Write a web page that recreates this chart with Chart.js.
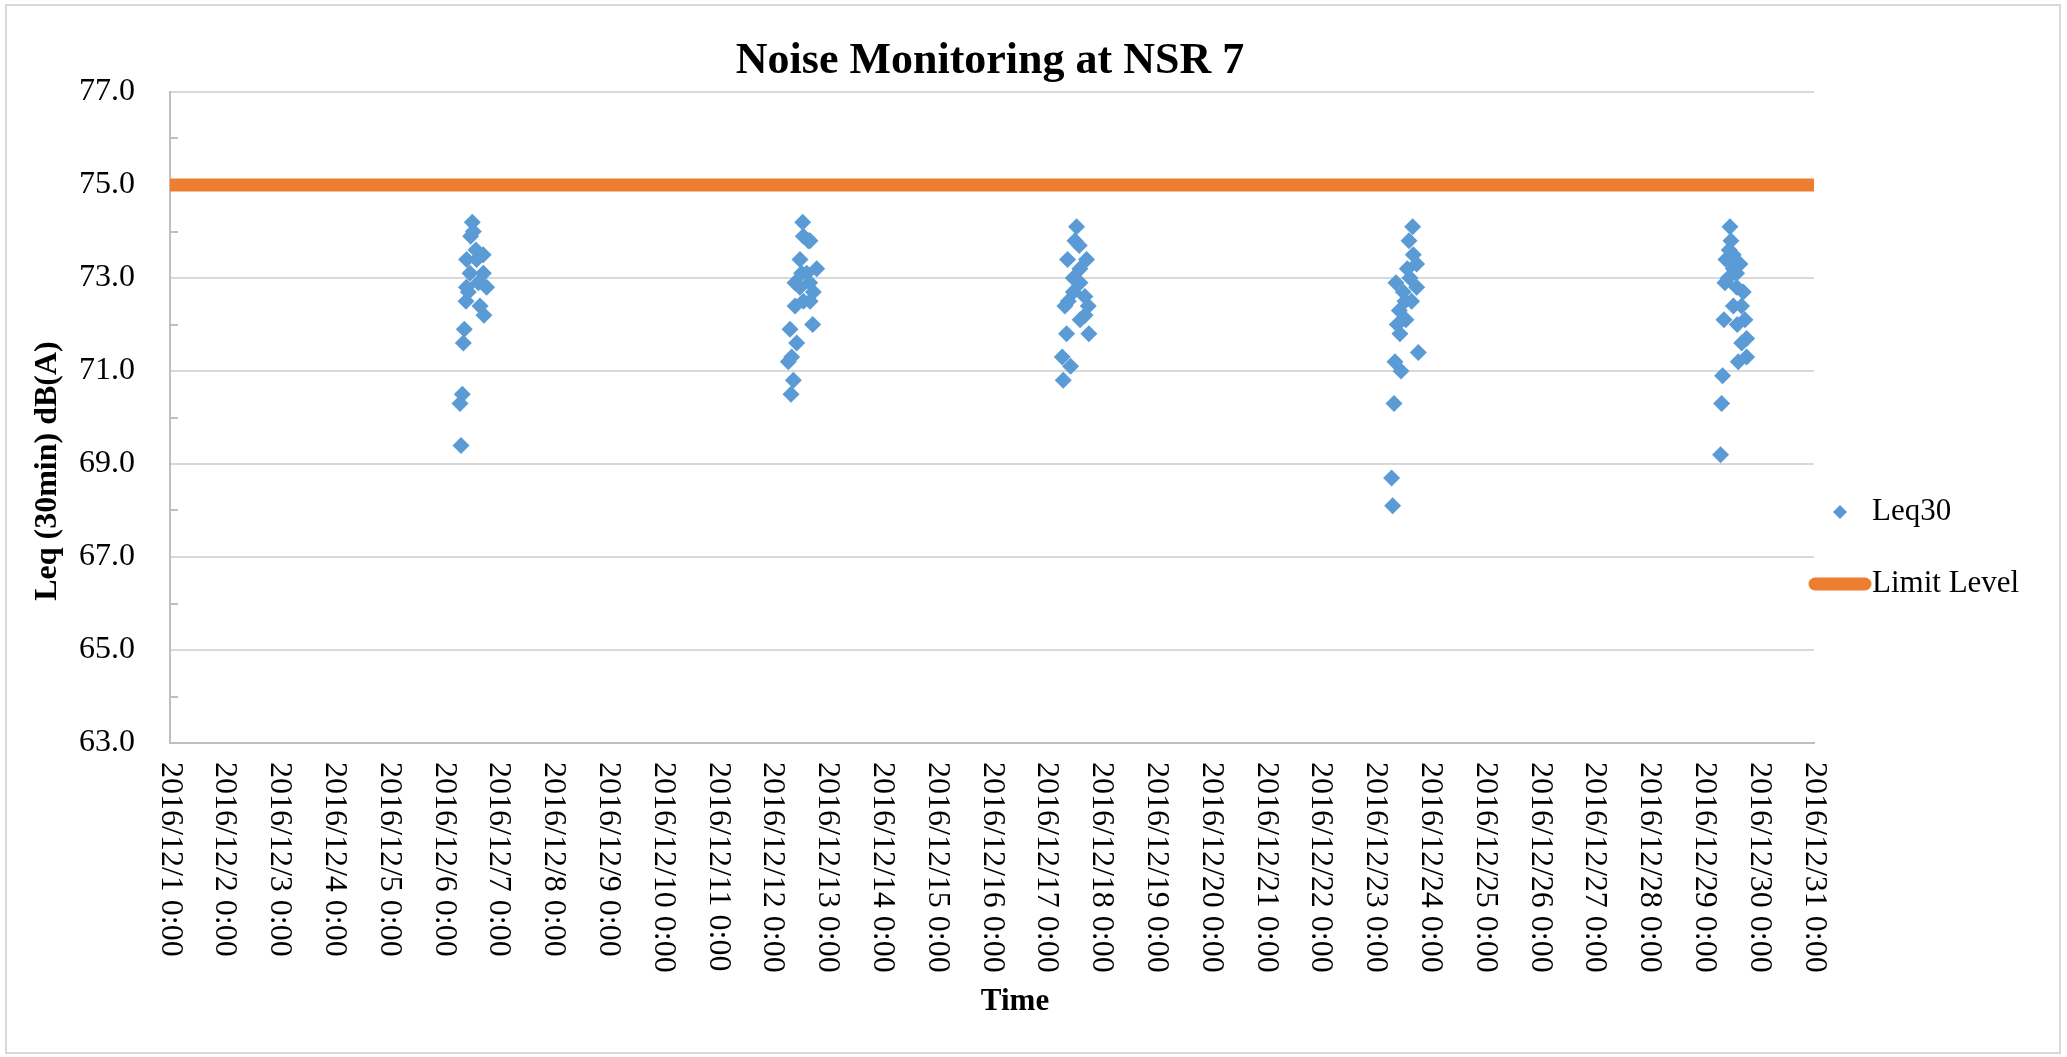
<!DOCTYPE html>
<html>
<head>
<meta charset="utf-8">
<title>Noise Monitoring at NSR 7</title>
<script src="https://cdn.jsdelivr.net/npm/chart.js@4.4.1/dist/chart.umd.min.js"></script>
<style>
    body { margin: 0; background: #fff; }
    canvas { display: block; }
</style>
</head>
<body>
<canvas id="noise-chart" width="2067" height="1057"></canvas>
<script>
// Tick labels along the time axis (one per day)
const xTickLabels = [
    '2016/12/1 0:00', '2016/12/2 0:00', '2016/12/3 0:00', '2016/12/4 0:00', '2016/12/5 0:00',
    '2016/12/6 0:00', '2016/12/7 0:00', '2016/12/8 0:00', '2016/12/9 0:00', '2016/12/10 0:00',
    '2016/12/11 0:00', '2016/12/12 0:00', '2016/12/13 0:00', '2016/12/14 0:00', '2016/12/15 0:00',
    '2016/12/16 0:00', '2016/12/17 0:00', '2016/12/18 0:00', '2016/12/19 0:00', '2016/12/20 0:00',
    '2016/12/21 0:00', '2016/12/22 0:00', '2016/12/23 0:00', '2016/12/24 0:00', '2016/12/25 0:00',
    '2016/12/26 0:00', '2016/12/27 0:00', '2016/12/28 0:00', '2016/12/29 0:00', '2016/12/30 0:00',
    '2016/12/31 0:00'
];

// Measurement days
const leqDates = ['2016/12/6', '2016/12/12', '2016/12/17', '2016/12/23', '2016/12/29'];

// Leq30 readings, dB(A), per monitoring day
const leqTimes_1206 = ['12:24', '12:50', '11:40', '14:00', '17:10', '09:55', '14:18', '11:23', '17:15', '09:50', '15:02',
    '18:40', '10:39', '09:38', '15:46', '17:30', '08:54', '08:28', '08:01', '07:00', '07:26'];
const leqValues_1206 = [74.2, 74.0, 73.9, 73.6, 73.5, 73.4, 73.4, 73.1, 73.1, 72.8, 72.9,
    72.8, 72.7, 72.5, 72.4, 72.2, 71.9, 71.6, 70.5, 70.3, 69.4];

const leqTimes_1212 = ['13:05', '13:22', '15:34', '16:17', '11:55', '19:13', '14:50', '12:38', '09:43', '16:10', '11:50',
    '17:45', '16:20', '09:45', '13:25', '17:28', '07:32', '10:27', '08:16', '06:48', '09:00', '07:58'];
const leqValues_1212 = [74.2, 73.9, 73.8, 73.8, 73.4, 73.2, 73.1, 73.1, 72.9, 72.9, 72.8,
    72.7, 72.5, 72.4, 72.5, 72.0, 71.9, 71.6, 71.3, 71.2, 70.8, 70.5];

const leqTimes_1217 = ['13:02', '12:19', '14:13', '09:06', '17:25', '14:30', '11:35', '14:32', '11:37', '16:41',
    '09:23', '07:56', '18:09', '16:45', '14:35', '08:40', '18:26', '06:46', '10:25', '07:12'];
const leqValues_1217 = [74.1, 73.8, 73.7, 73.4, 73.4, 73.2, 73.0, 72.9, 72.7, 72.6,
    72.5, 72.4, 72.4, 72.2, 72.1, 71.8, 71.8, 71.3, 71.1, 70.8];

const leqTimes_1223 = ['16:13', '14:37', '16:31', '17:58', '13:53', '15:03', '08:55', '18:00', '12:08', '15:47', '12:52',
    '10:23', '13:18', '09:30', '10:40', '18:42', '08:29', '11:07', '08:03', '07:01', '07:28'];
const leqValues_1223 = [74.1, 73.8, 73.5, 73.3, 73.2, 73.0, 72.9, 72.8, 72.7, 72.5, 72.5,
    72.3, 72.1, 72.0, 71.8, 71.4, 71.2, 71.0, 70.3, 68.7, 68.1];

const leqTimes_1229 = ['11:11', '11:37', '10:53', '12:38', '09:26', '15:34', '12:40', '14:06', '10:27', '08:59', '14:08', '17:01',
    '12:42', '16:17', '08:33', '17:45', '14:23', '18:29', '16:20', '18:30', '14:50', '07:58', '07:32', '07:05'];
const leqValues_1229 = [74.1, 73.8, 73.6, 73.5, 73.4, 73.3, 73.2, 73.1, 73.0, 72.9, 72.8, 72.7,
    72.4, 72.4, 72.1, 72.1, 72.0, 71.7, 71.6, 71.3, 71.2, 70.9, 70.3, 69.2];

// Limit level line
const limitTimes = ['2016/12/1 0:00', '2016/12/31 0:00'];
const limitLevel = [75, 75];

const yMin = 63;
const yMax = 77;
const yStep = 2;

// days since 2016/12/1 0:00
function toDays(stamp) {
    const [date, time] = stamp.split(' ');
    const day = Number(date.split('/')[2]);
    const [h, m] = time.split(':').map(Number);
    return day - 1 + (h + m / 60) / 24;
}

const leqTimes = [leqTimes_1206, leqTimes_1212, leqTimes_1217, leqTimes_1223, leqTimes_1229];
const leqValues = [leqValues_1206, leqValues_1212, leqValues_1217, leqValues_1223, leqValues_1229];

const leqPoints = [];
leqDates.forEach((date, i) => {
    leqTimes[i].forEach((t, j) => {
        leqPoints.push({ x: toDays(date + ' ' + t), y: leqValues[i][j] });
    });
});

const limitPoints = limitTimes.map((t, i) => ({ x: toDays(t), y: limitLevel[i] }));

const SERIF = '"Liberation Serif", "Times New Roman", serif';

// Extra drawing: rotated date labels, axis titles, chart title, legend, frame
const decorations = {
    id: 'decorations',
    afterDraw(chart) {
        const { ctx, chartArea } = chart;
        const x = chart.scales.x;
        const y = chart.scales.y;
        ctx.save();

        // small inner ticks on the value axis
        ctx.strokeStyle = '#BFBFBF';
        ctx.lineWidth = 2;
        for (let v = yMin + 1; v < yMax; v += yStep) {
            const py = Math.round(y.getPixelForValue(v));
            ctx.beginPath();
            ctx.moveTo(chartArea.left, py);
            ctx.lineTo(chartArea.left + 8, py);
            ctx.stroke();
        }

        // date labels, read top to bottom
        ctx.fillStyle = '#000';
        ctx.font = '32px ' + SERIF;
        ctx.textAlign = 'left';
        ctx.textBaseline = 'middle';
        x.ticks.forEach(tick => {
            const label = xTickLabels[Math.round(tick.value)];
            if (!label) return;
            ctx.save();
            ctx.translate(x.getPixelForValue(tick.value), chartArea.bottom + 19);
            ctx.rotate(Math.PI / 2);
            ctx.fillText(label, 0, 0);
            ctx.restore();
        });

        // axis titles
        ctx.font = 'bold 32px ' + SERIF;
        ctx.textAlign = 'center';
        ctx.save();
        ctx.translate(48, 471);
        ctx.rotate(-Math.PI / 2);
        ctx.fillText('Leq (30min) dB(A)', 0, 0);
        ctx.restore();

        ctx.font = 'bold 31px ' + SERIF;
        ctx.fillText('Time', 1015, 1002);

        // chart title
        ctx.font = 'bold 44px ' + SERIF;
        ctx.fillText('Noise Monitoring at NSR 7', 990, 62);

        // legend
        ctx.fillStyle = '#5B9BD5';
        ctx.beginPath();
        ctx.moveTo(1840, 505);
        ctx.lineTo(1847, 512);
        ctx.lineTo(1840, 519);
        ctx.lineTo(1833, 512);
        ctx.closePath();
        ctx.fill();

        ctx.strokeStyle = '#ED7D31';
        ctx.lineWidth = 13;
        ctx.lineCap = 'round';
        ctx.beginPath();
        ctx.moveTo(1815, 584);
        ctx.lineTo(1865, 584);
        ctx.stroke();

        ctx.fillStyle = '#000';
        ctx.font = '31px ' + SERIF;
        ctx.textAlign = 'left';
        ctx.fillText('Leq30', 1872, 512);
        ctx.fillText('Limit Level', 1872, 584);

        // chart frame
        ctx.strokeStyle = '#D9D9D9';
        ctx.lineWidth = 2;
        ctx.lineCap = 'butt';
        ctx.strokeRect(6, 5, 2054, 1048);

        ctx.restore();
    }
};

const ctx = document.getElementById('noise-chart').getContext('2d');

const noiseChart = new Chart(ctx, {
    type: 'scatter',
    data: {
        datasets: [
            {
                label: 'Leq30',
                data: leqPoints,
                pointStyle: 'rectRot',
                pointRadius: 8.5,
                pointHoverRadius: 8.5,
                backgroundColor: '#5B9BD5',
                borderColor: '#5B9BD5',
                borderWidth: 0
            },
            {
                label: 'Limit Level',
                type: 'line',
                data: limitPoints,
                borderColor: '#ED7D31',
                borderWidth: 13,
                borderCapStyle: 'butt',
                pointRadius: 0,
                showLine: true,
                fill: false
            }
        ]
    },
    options: {
        responsive: false,
        animation: false,
        layout: {
            padding: { left: 0, right: 253, top: 92, bottom: 0 }
        },
        plugins: {
            legend: { display: false },
            title: { display: false },
            tooltip: { enabled: false }
        },
        scales: {
            x: {
                type: 'linear',
                min: 0,
                max: 30,
                ticks: { display: false, stepSize: 1, autoSkip: false },
                grid: { display: false },
                border: { color: '#BFBFBF', width: 2 },
                afterFit: scale => { scale.height = 314; }
            },
            y: {
                min: yMin,
                max: yMax,
                ticks: {
                    stepSize: yStep,
                    padding: 35,
                    color: '#000',
                    font: { family: SERIF, size: 32 },
                    callback: v => v.toFixed(1)
                },
                grid: { color: '#D9D9D9', lineWidth: 2, drawTicks: false },
                border: { color: '#BFBFBF', width: 2 },
                afterFit: scale => { scale.width = 170; }
            }
        }
    },
    plugins: [decorations]
});
</script>
</body>
</html>
